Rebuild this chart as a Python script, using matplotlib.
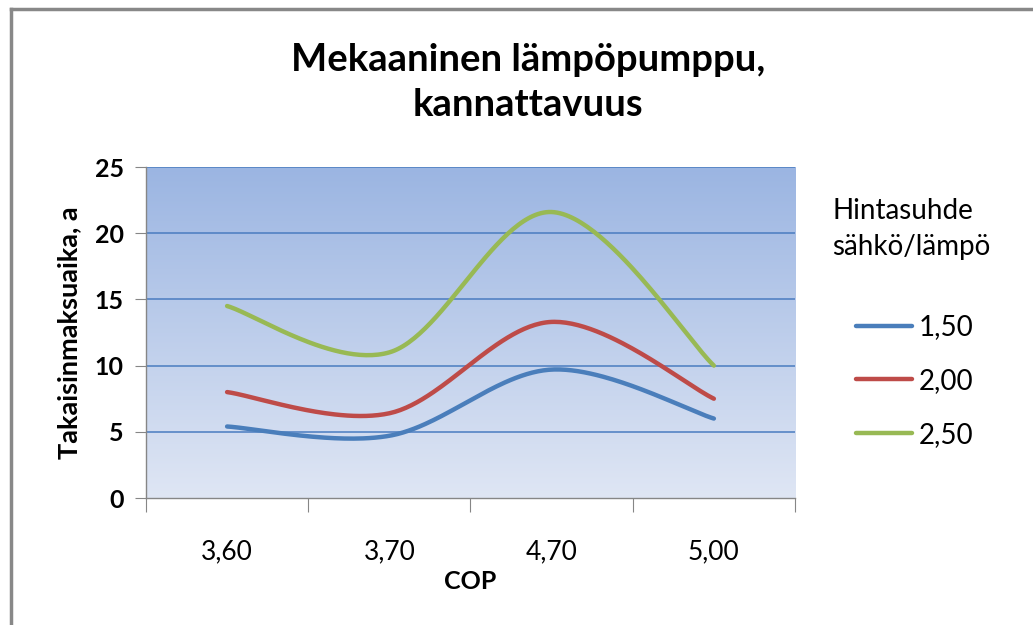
import numpy as np
import matplotlib
matplotlib.use("Agg")
import matplotlib.pyplot as plt
from matplotlib.colors import LinearSegmentedColormap

# data
cop_labels = ["3,60", "3,70", "4,70", "5,00"]
series_names = ["1,50", "2,00", "2,50"]
payback_150 = [5.4, 4.7, 9.7, 6.0]
payback_200 = [8.0, 6.4, 13.3, 7.5]
payback_250 = [14.5, 11.0, 21.6, 10.0]
colors = ["#4a7ebb", "#be4b48", "#98b954"]

plt.rcParams['font.family'] = ['Lato', 'DejaVu Sans']


def excel_smooth(xs, ys, n=60):
    # bezier through the points, control points like Excel's smoothed line
    pts = np.column_stack([xs, ys]).astype(float)
    out = []
    for i in range(len(pts) - 1):
        p0 = pts[max(i - 1, 0)]
        p1 = pts[i]
        p2 = pts[i + 1]
        p3 = pts[min(i + 2, len(pts) - 1)]
        c1 = p1 + (p2 - p0) / 6.0
        c2 = p2 - (p3 - p1) / 6.0
        t = np.linspace(0, 1, n)[:, None]
        seg = ((1 - t) ** 3) * p1 + 3 * ((1 - t) ** 2) * t * c1 + 3 * (1 - t) * t ** 2 * c2 + t ** 3 * p2
        out.append(seg if i == 0 else seg[1:])
    seg = np.vstack(out)
    return seg[:, 0], seg[:, 1]


fig = plt.figure(figsize=(10.33, 6.25), dpi=100)
ax = fig.add_axes([0.1413, 0.2032, 0.6283, 0.5296])

# gradient background
cmap = LinearSegmentedColormap.from_list("bg", ["#dfe6f4", "#9bb5e2"])
grad = np.linspace(0, 1, 256)[:, None]
ax.imshow(grad, cmap=cmap, origin="lower", aspect="auto",
          extent=[-0.5, 3.5, 0, 25], zorder=0)

ax.set_xlim(-0.5, 3.5)
ax.set_ylim(0, 25)

for yv in [5, 10, 15, 20, 25]:
    ax.axhline(yv, color="#4a7cc0", lw=1.1, zorder=1)

x = np.arange(len(cop_labels))
for vals, name, c in zip([payback_150, payback_200, payback_250], series_names, colors):
    sx, sy = excel_smooth(x, vals)
    ax.plot(sx, sy, color=c, lw=3.2, solid_capstyle="round", label=name, zorder=3)

# axes styling
for s in ["top", "right"]:
    ax.spines[s].set_visible(False)
for s in ["left", "bottom"]:
    ax.spines[s].set_color("#868686")
    ax.spines[s].set_linewidth(1.0)

ax.set_yticks([0, 5, 10, 15, 20, 25])
ax.set_yticklabels(["0", "5", "10", "15", "20", "25"], fontsize=18, fontweight="bold")
ax.tick_params(axis="y", length=8, color="#868686", pad=8)

ax.set_xticks([-0.5, 0.5, 1.5, 2.5, 3.5])
ax.set_xticklabels([])
ax.tick_params(axis="x", which="major", length=10, color="#868686")
ax.set_xticks(x, minor=True)
ax.set_xticklabels(cop_labels, minor=True, fontsize=19)
ax.tick_params(axis="x", which="minor", length=0, pad=30)

ax.set_xlabel("COP", fontsize=18, fontweight="bold", labelpad=4)
ax.set_ylabel("Takaisinmaksuaika, a", fontsize=19.5, fontweight="bold", labelpad=10)

fig.text(0.511, 0.868, "Mekaaninen lämpöpumppu,\nkannattavuus", ha="center", va="center",
         fontsize=27.5, fontweight="bold", linespacing=1.38)

# legend title and entries
fig.text(0.806, 0.683, "Hintasuhde\nsähkö/lämpö", ha="left", va="top",
         fontsize=20, linespacing=1.45)
leg = ax.legend(loc="upper left", bbox_to_anchor=(0.829, 0.497),
                bbox_transform=fig.transFigure, frameon=False,
                fontsize=20, handlelength=2.0, handletextpad=0.25,
                labelspacing=1.0, borderpad=0, borderaxespad=0)

# outer frame (only top and left visible in the original)
fig.add_artist(plt.Line2D([0.0105, 0.0105], [0.0, 0.985], color="#888888", lw=2.5))
fig.add_artist(plt.Line2D([0.0105, 1.0], [0.985, 0.985], color="#888888", lw=2.5))

fig.savefig("out.png", dpi=100, facecolor="white")
